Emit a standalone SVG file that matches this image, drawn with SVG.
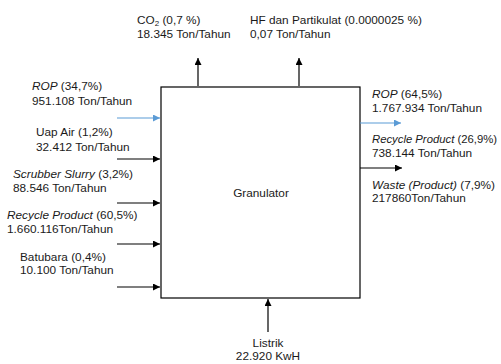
<svg xmlns="http://www.w3.org/2000/svg" width="501" height="364" viewBox="0 0 501 364">
<defs>
<marker id="ab" viewBox="0 0 10 10" refX="10" refY="5" markerWidth="7" markerHeight="7" markerUnits="userSpaceOnUse" orient="auto"><path d="M0,0 L10,5 L0,10 z" fill="#000"/></marker>
<marker id="au" viewBox="0 0 10 10" refX="10" refY="5" markerWidth="7" markerHeight="7" markerUnits="userSpaceOnUse" orient="auto"><path d="M0,0 L10,5 L0,10 z" fill="#5B9BD5"/></marker>
<style>
text{font-family:"Liberation Sans",Arial,sans-serif;font-size:11.8px;fill:#1a1a1a}
.i{font-style:italic}
.k{stroke:#000;stroke-width:1.2;fill:none;marker-end:url(#ab)}
.b{stroke:#5B9BD5;stroke-width:1.2;fill:none;marker-end:url(#au)}
</style>
</defs>
<rect width="501" height="364" fill="#fff"/>
<g id="granulator">
<rect x="161" y="87" width="199" height="211" fill="#fff" stroke="#000" stroke-width="1.2"/>
<text x="261" y="197" text-anchor="middle">Granulator</text>
</g>
<g id="connectors">
<line class="b" x1="117" y1="118" x2="160" y2="118"/>
<line class="k" x1="117" y1="159" x2="160" y2="159"/>
<line class="k" x1="117" y1="203" x2="160" y2="203"/>
<line class="k" x1="117" y1="244" x2="160" y2="244"/>
<line class="k" x1="117" y1="287" x2="160" y2="287"/>
<line class="b" x1="360" y1="123" x2="401" y2="123"/>
<line class="k" x1="360" y1="168" x2="402" y2="168"/>
<line class="k" x1="198" y1="86" x2="198" y2="58"/>
<line class="k" x1="299" y1="86" x2="299" y2="58"/>
<line class="k" x1="268" y1="332" x2="268" y2="299"/>
</g>
<g id="in-rop"><text x="32" y="90"><tspan class="i">ROP</tspan> (34,7%)</text><text x="32" y="105">951.108 Ton/Tahun</text></g>
<g id="in-uap"><text x="36" y="136">Uap Air (1,2%)</text><text x="36" y="151">32.412 Ton/Tahun</text></g>
<g id="in-scrubber"><text x="13" y="178"><tspan class="i">Scrubber Slurry</tspan> (3,2%)</text><text x="13" y="192">88.546 Ton/Tahun</text></g>
<g id="in-recycle"><text x="7" y="219"><tspan class="i">Recycle Product</tspan> (60,5%)</text><text x="7" y="233">1.660.116Ton/Tahun</text></g>
<g id="in-batubara"><text x="20" y="261">Batubara (0,4%)</text><text x="20" y="274">10.100 Ton/Tahun</text></g>
<g id="out-co2"><text x="137" y="24">CO<tspan font-size="8" baseline-shift="-2">2</tspan> (0,7 %)</text><text x="137" y="38">18.345 Ton/Tahun</text></g>
<g id="out-hf"><text x="250" y="24">HF dan Partikulat (0.0000025 %)</text><text x="250" y="38">0,07 Ton/Tahun</text></g>
<g id="out-rop"><text x="372" y="98"><tspan class="i">ROP</tspan> (64,5%)</text><text x="372" y="112">1.767.934 Ton/Tahun</text></g>
<g id="out-recycle"><text x="372" y="143" textLength="125" lengthAdjust="spacingAndGlyphs"><tspan class="i">Recycle Product</tspan> (26,9%)</text><text x="372" y="157">738.144 Ton/Tahun</text></g>
<g id="out-waste"><text x="372" y="189"><tspan class="i">Waste (Product)</tspan> (7,9%)</text><text x="372" y="202">217860Ton/Tahun</text></g>
<g id="in-listrik"><text x="268" y="347" text-anchor="middle">Listrik</text><text x="268" y="360" text-anchor="middle">22.920 KwH</text></g>
</svg>
